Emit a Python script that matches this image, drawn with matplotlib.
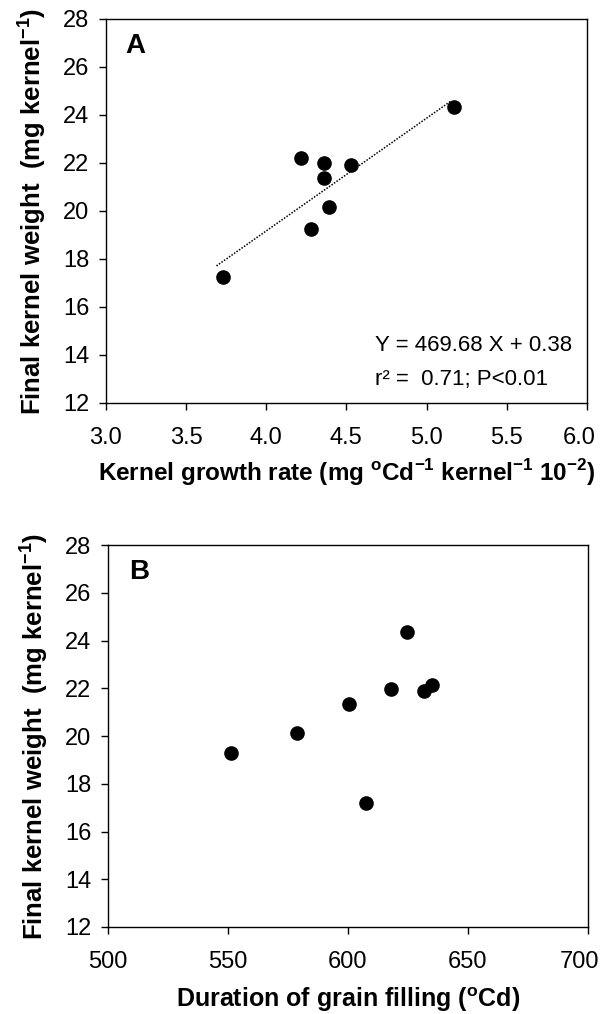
import matplotlib
matplotlib.use("Agg")
import matplotlib.pyplot as plt
from matplotlib import font_manager
from matplotlib.transforms import ScaledTranslation

# pick a narrow sans face if it is there
FONT = "Liberation Sans"
try:
    font_manager.findfont("Liberation Sans Narrow", fallback_to_default=False)
    FONT = "Liberation Sans Narrow"
except Exception:
    pass

plt.rcParams["font.family"] = [FONT, "DejaVu Sans"]
plt.rcParams["mathtext.fontset"] = "custom"
plt.rcParams["mathtext.rm"] = FONT
plt.rcParams["mathtext.bf"] = FONT + ":bold"

# Panel A: kernel growth rate vs final kernel weight
growth_rate = [3.73, 4.22, 4.36, 4.36, 4.53, 4.39, 4.28, 5.17]
weight_a = [17.23, 22.19, 21.99, 21.37, 21.91, 20.18, 19.26, 24.35]
fit_x = [3.69, 5.15]
fit_slope = 4.6968
fit_intercept = 0.38

# Panel B: duration of grain filling vs final kernel weight
duration = [551.4, 579.0, 600.4, 607.6, 618.1, 624.8, 631.7, 634.9]
weight_b = [19.29, 20.13, 21.35, 17.20, 21.97, 24.36, 21.87, 22.15]

y_ticks = [12, 14, 16, 18, 20, 22, 24, 26, 28]
xa_ticks = [3.0, 3.5, 4.0, 4.5, 5.0, 5.5, 6.0]
xb_ticks = [500, 550, 600, 650, 700]

ylabel = r"Final kernel weight  (mg kernel$^{\mathbf{-1}}$)"
xlabel_a = (r"Kernel growth rate (mg $^{\mathbf{o}}$Cd$^{\mathbf{-1}}$ "
            r"kernel$^{\mathbf{-1}}$ 10$^{\mathbf{-2}}$)")
xlabel_b = r"Duration of grain filling ($^{\mathbf{o}}$Cd)"

fig = plt.figure(figsize=(6.05, 10.14), dpi=100)
ax_a = fig.add_axes([0.175, 0.6026, 0.795, 0.3787])
ax_b = fig.add_axes([0.1785, 0.0858, 0.793, 0.3767])


def style_axes(ax, xticks, xfmt):
    ax.set_ylim(12, 28)
    ax.set_yticks(y_ticks)
    ax.set_xticks(xticks)
    ax.set_xticklabels([xfmt.format(v) for v in xticks])
    ax.set_xlim(xticks[0], xticks[-1])
    for s in ax.spines.values():
        s.set_linewidth(1.0)
        s.set_color("black")
    ax.tick_params(direction="out", length=5, width=1.0, labelsize=17,
                   top=False, right=False)
    ax.tick_params(axis="x", pad=12)
    ax.tick_params(axis="y", pad=7)
    ax.set_ylabel(ylabel, fontsize=18.5, fontweight="bold", labelpad=11)
    # keep the last x label inside the figure edge
    last = ax.get_xticklabels()[-1]
    last.set_transform(last.get_transform()
                       + ScaledTranslation(-8 / 100, 0, fig.dpi_scale_trans))


# Panel A
fit_y = [fit_slope * x + fit_intercept for x in fit_x]
ax_a.plot(fit_x, fit_y, color="black", linestyle=(0, (1, 1)), linewidth=1.1)
ax_a.plot(growth_rate, weight_a, "o", color="black", markersize=9.5)
style_axes(ax_a, xa_ticks, "{:.1f}")
ax_a.set_xlabel(xlabel_a, fontsize=17.5, fontweight="bold", labelpad=6)
ax_a.text(0.04, 0.93, "A", transform=ax_a.transAxes, fontsize=20,
          fontweight="bold", va="center", ha="left")
ax_a.text(0.56, 0.15, "Y = 469.68 X + 0.38", transform=ax_a.transAxes,
          fontsize=16, va="center", ha="left")
ax_a.text(0.56, 0.06, "r² =  0.71; P<0.01", transform=ax_a.transAxes,
          fontsize=16, va="center", ha="left")

# Panel B
ax_b.plot(duration, weight_b, "o", color="black", markersize=9.5)
style_axes(ax_b, xb_ticks, "{:d}")
ax_b.set_xlabel(xlabel_b, fontsize=18, fontweight="bold", labelpad=9)
ax_b.text(0.045, 0.93, "B", transform=ax_b.transAxes, fontsize=20,
          fontweight="bold", va="center", ha="left")

fig.savefig("out.png", dpi=100)
